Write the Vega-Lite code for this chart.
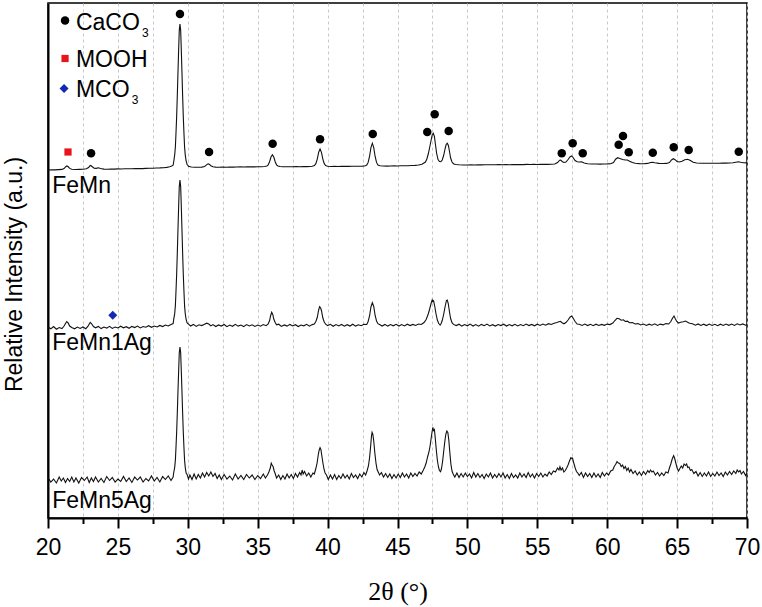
{
  "$schema": "https://vega.github.io/schema/vega-lite/v6.json",
  "width": 699,
  "height": 515,
  "autosize": {"type": "none"},
  "padding": {"left": 48, "top": 3, "right": 15, "bottom": 89},
  "background": "white",
  "config": {
    "view": {"stroke": "black", "strokeWidth": 1.5},
    "font": "Liberation Sans"
  },
  "datasets": {
    "femn": [
      {"x":20.0,"y":348},{"x":20.25,"y":348.3},{"x":20.5,"y":348.1},{"x":20.75,"y":348.4},{"x":21.0,"y":348.6},{"x":21.15,"y":349.5},{"x":21.25,"y":351},{"x":21.35,"y":352},{"x":21.45,"y":351.2},{"x":21.55,"y":349.6},{"x":21.7,"y":348.8},{"x":22.0,"y":348.5},{"x":22.25,"y":348.6},{"x":22.5,"y":348.7},{"x":22.75,"y":349.2},{"x":22.9,"y":350.5},{"x":23.0,"y":352.2},{"x":23.05,"y":352.5},{"x":23.15,"y":351.5},{"x":23.3,"y":349.8},{"x":23.45,"y":349.6},{"x":23.6,"y":350.2},{"x":23.75,"y":349.5},{"x":24.0,"y":348.9},{"x":24.25,"y":348.8},{"x":24.5,"y":349},{"x":24.75,"y":348.9},{"x":25.0,"y":349.1},{"x":25.25,"y":349},{"x":25.5,"y":349.2},{"x":25.75,"y":349.3},{"x":26.0,"y":349.2},{"x":26.25,"y":349.4},{"x":26.5,"y":349.5},{"x":26.75,"y":349.4},{"x":27.0,"y":349.6},{"x":27.25,"y":349.7},{"x":27.5,"y":349.8},{"x":27.75,"y":350},{"x":28.0,"y":350.1},{"x":28.25,"y":350.3},{"x":28.5,"y":350.6},{"x":28.7,"y":351.2},{"x":28.85,"y":352},{"x":28.95,"y":352.8},
      {"x":29.0,"y":357},{"x":29.06,"y":362.9},{"x":29.11,"y":370.7},{"x":29.15,"y":383.2},{"x":29.2,"y":400.6},{"x":29.25,"y":422.5},{"x":29.3,"y":447.1},{"x":29.35,"y":470.4},{"x":29.39,"y":487.6},{"x":29.44,"y":494},{"x":29.49,"y":487.6},{"x":29.53,"y":470.4},{"x":29.58,"y":447.1},{"x":29.63,"y":422.5},{"x":29.68,"y":400.6},{"x":29.73,"y":383.2},{"x":29.77,"y":370.7},{"x":29.82,"y":362.9},{"x":29.88,"y":357},{"x":29.95,"y":353.5},{"x":30.05,"y":351.8},{"x":30.25,"y":351},{"x":30.5,"y":350.7},{"x":30.75,"y":350.8},{"x":31.0,"y":350.9},{"x":31.2,"y":351.5},{"x":31.3,"y":352.6},{"x":31.4,"y":353.8},{"x":31.47,"y":354.2},{"x":31.55,"y":353.6},{"x":31.65,"y":352.3},{"x":31.8,"y":351.2},{"x":32.0,"y":350.9},{"x":32.25,"y":350.8},{"x":32.5,"y":350.9},{"x":32.75,"y":350.8},{"x":33.0,"y":351},{"x":33.25,"y":350.9},{"x":33.5,"y":351},{"x":33.75,"y":351.1},{"x":34.0,"y":351},{"x":34.25,"y":351.1},{"x":34.5,"y":351.2},{"x":34.75,"y":351.1},{"x":35.0,"y":351.2},{"x":35.25,"y":351.3},{"x":35.5,"y":351.5},
      {"x":35.65,"y":351.9},{"x":35.75,"y":353.2},{"x":35.85,"y":356.3},{"x":35.95,"y":361},{"x":36.05,"y":363.3},{"x":36.15,"y":361},{"x":36.25,"y":356.3},{"x":36.35,"y":353.2},{"x":36.45,"y":352},{"x":36.6,"y":351.5},{"x":36.8,"y":351.3},{"x":37.0,"y":351.2},{"x":37.25,"y":351.3},{"x":37.5,"y":351.2},{"x":37.75,"y":351.4},{"x":38.0,"y":351.3},{"x":38.25,"y":351.4},{"x":38.5,"y":351.4},{"x":38.75,"y":351.5},{"x":38.9,"y":351.8},
      {"x":39.06,"y":352.4},{"x":39.16,"y":354.3},{"x":39.26,"y":358.9},{"x":39.36,"y":365.7},{"x":39.46,"y":369},{"x":39.56,"y":365.7},{"x":39.66,"y":358.9},{"x":39.76,"y":354.3},{"x":39.86,"y":352.4},{"x":40.0,"y":351.7},{"x":40.25,"y":351.5},{"x":40.5,"y":351.6},{"x":40.75,"y":351.5},{"x":41.0,"y":351.6},{"x":41.25,"y":351.7},{"x":41.5,"y":351.6},{"x":41.75,"y":351.7},{"x":42.0,"y":351.8},{"x":42.25,"y":351.7},{"x":42.5,"y":351.9},{"x":42.7,"y":352.2},
      {"x":42.8,"y":353},{"x":42.9,"y":355.6},{"x":43.0,"y":361.5},{"x":43.1,"y":370.4},{"x":43.2,"y":374.8},{"x":43.3,"y":370.4},{"x":43.4,"y":361.5},{"x":43.5,"y":355.6},{"x":43.6,"y":353},{"x":43.75,"y":352.3},{"x":44.0,"y":352},{"x":44.25,"y":351.9},{"x":44.5,"y":352},{"x":44.75,"y":352.1},{"x":45.0,"y":352},{"x":45.25,"y":352.2},{"x":45.5,"y":352.3},{"x":45.75,"y":352.3},{"x":46.0,"y":352.5},{"x":46.25,"y":352.6},{"x":46.5,"y":353},{"x":46.75,"y":353.8},{"x":47.0,"y":356},
      {"x":47.1,"y":359},{"x":47.2,"y":364},{"x":47.3,"y":370.5},{"x":47.4,"y":377.5},{"x":47.48,"y":383},{"x":47.56,"y":384.7},{"x":47.64,"y":381.5},{"x":47.72,"y":373},{"x":47.8,"y":364.5},{"x":47.9,"y":358.5},{"x":48.0,"y":356.5},{"x":48.1,"y":356.3},{"x":48.2,"y":358},{"x":48.3,"y":362.5},{"x":48.4,"y":369},{"x":48.48,"y":373.5},{"x":48.56,"y":374.8},{"x":48.64,"y":372.5},{"x":48.72,"y":366.5},{"x":48.8,"y":360},{"x":48.9,"y":356},{"x":49.0,"y":354.3},{"x":49.15,"y":353.5},{"x":49.4,"y":353.2},{"x":49.7,"y":353},
      {"x":50.0,"y":353},{"x":50.25,"y":353.1},{"x":50.5,"y":353},{"x":50.75,"y":353.2},{"x":51.0,"y":353.1},{"x":51.25,"y":353.2},{"x":51.5,"y":353.3},{"x":51.75,"y":353.2},{"x":52.0,"y":353.3},{"x":52.25,"y":353.4},{"x":52.5,"y":353.3},{"x":52.75,"y":353.4},{"x":53.0,"y":353.3},{"x":53.25,"y":353.5},{"x":53.5,"y":353.4},{"x":53.75,"y":353.5},{"x":54.0,"y":353.4},{"x":54.25,"y":353.6},{"x":54.5,"y":353.5},{"x":54.75,"y":353.6},{"x":55.0,"y":353.5},{"x":55.25,"y":353.6},{"x":55.5,"y":353.7},{"x":55.75,"y":353.6},{"x":56.0,"y":353.8},{"x":56.25,"y":354},
      {"x":56.45,"y":355.5},{"x":56.6,"y":357.8},{"x":56.67,"y":358},{"x":56.78,"y":356.5},{"x":56.9,"y":355.5},{"x":57.05,"y":356},{"x":57.2,"y":358.5},{"x":57.35,"y":361.3},{"x":57.46,"y":362},{"x":57.56,"y":360.5},{"x":57.7,"y":357.5},{"x":57.85,"y":356.2},{"x":58.0,"y":356},{"x":58.17,"y":356.3},{"x":58.35,"y":355},{"x":58.6,"y":354.3},{"x":58.9,"y":354},{"x":59.2,"y":354},{"x":59.5,"y":353.9},{"x":59.75,"y":354},{"x":60.0,"y":354.1},{"x":60.25,"y":354.3},
      {"x":60.45,"y":355.5},{"x":60.6,"y":358.8},{"x":60.75,"y":360.3},{"x":60.9,"y":359.5},{"x":61.1,"y":358.5},{"x":61.3,"y":358},{"x":61.44,"y":358},{"x":61.6,"y":356.8},{"x":61.8,"y":355.5},{"x":62.0,"y":354.8},{"x":62.3,"y":354.4},{"x":62.6,"y":354.3},{"x":62.9,"y":354.6},{"x":63.1,"y":355.5},{"x":63.25,"y":355.7},{"x":63.4,"y":355.2},{"x":63.7,"y":354.6},{"x":64.0,"y":354.5},{"x":64.25,"y":354.6},
      {"x":64.45,"y":355.5},{"x":64.6,"y":358},{"x":64.73,"y":359.3},{"x":64.85,"y":358.3},{"x":65.0,"y":356.5},{"x":65.15,"y":356},{"x":65.35,"y":356.8},{"x":65.55,"y":358.2},{"x":65.76,"y":358.7},{"x":65.95,"y":357.5},{"x":66.15,"y":355.8},{"x":66.4,"y":355},{"x":66.7,"y":354.7},{"x":67.0,"y":354.7},{"x":67.25,"y":354.8},{"x":67.5,"y":354.7},{"x":67.75,"y":354.8},{"x":68.0,"y":354.8},{"x":68.25,"y":354.9},{"x":68.5,"y":354.9},{"x":68.75,"y":355},{"x":69.0,"y":355.2},{"x":69.2,"y":355.8},{"x":69.38,"y":356.3},{"x":69.55,"y":355.7},{"x":69.75,"y":355.2},{"x":70.0,"y":355.1}
    ],
    "femn1ag": [
      {"x":20.0,"y":191},{"x":20.2,"y":189.2},{"x":20.4,"y":191.5},{"x":20.6,"y":188.8},{"x":20.8,"y":190.4},{"x":21.0,"y":189.5},{"x":21.15,"y":192},{"x":21.25,"y":194.5},{"x":21.34,"y":196.3},{"x":21.45,"y":194.8},{"x":21.55,"y":192},{"x":21.7,"y":190.6},{"x":21.9,"y":189.2},{"x":22.1,"y":190.9},{"x":22.3,"y":189.6},{"x":22.5,"y":191},{"x":22.7,"y":189.3},{"x":22.85,"y":191.5},{"x":22.95,"y":194},{"x":23.02,"y":195.7},{"x":23.12,"y":194.2},{"x":23.25,"y":191.5},{"x":23.4,"y":190.2},{"x":23.6,"y":191.6},{"x":23.8,"y":189.4},{"x":24.0,"y":191},{"x":24.2,"y":189.9},{"x":24.4,"y":191.7},{"x":24.6,"y":189.6},{"x":24.8,"y":190.9},{"x":25.0,"y":190},{"x":25.2,"y":191.8},{"x":25.4,"y":190.2},{"x":25.6,"y":191.3},{"x":25.8,"y":189.7},{"x":26.0,"y":191.6},{"x":26.2,"y":190.4},{"x":26.4,"y":191.9},{"x":26.6,"y":190.1},{"x":26.8,"y":191.5},{"x":27.0,"y":190.8},{"x":27.2,"y":192.3},{"x":27.4,"y":190.7},{"x":27.6,"y":192},{"x":27.8,"y":191},{"x":28.0,"y":192.6},{"x":28.2,"y":191.4},{"x":28.4,"y":193},{"x":28.6,"y":192},{"x":28.8,"y":193.6},{"x":28.95,"y":194.5},
      {"x":29.0,"y":199.3},{"x":29.06,"y":204.1},{"x":29.11,"y":212.1},{"x":29.15,"y":224.9},{"x":29.2,"y":242.7},{"x":29.25,"y":265},{"x":29.3,"y":290.1},{"x":29.35,"y":313.9},{"x":29.39,"y":331.4},{"x":29.44,"y":338},{"x":29.49,"y":331.4},{"x":29.53,"y":313.9},{"x":29.58,"y":290.1},{"x":29.63,"y":265},{"x":29.68,"y":242.7},{"x":29.73,"y":224.9},{"x":29.77,"y":212.1},{"x":29.82,"y":204.1},{"x":29.88,"y":198.5},{"x":29.95,"y":195},{"x":30.05,"y":193.8},{"x":30.2,"y":192},{"x":30.4,"y":193.6},{"x":30.6,"y":191.6},{"x":30.8,"y":193.2},{"x":31.0,"y":192.4},{"x":31.2,"y":193.8},{"x":31.35,"y":194.8},{"x":31.5,"y":194},{"x":31.65,"y":192.1},{"x":31.8,"y":193.4},{"x":32.0,"y":191.5},{"x":32.2,"y":193.1},{"x":32.4,"y":191.9},{"x":32.6,"y":193.5},{"x":32.8,"y":191.3},{"x":33.0,"y":192.9},{"x":33.2,"y":191.7},{"x":33.4,"y":193.6},{"x":33.6,"y":191.9},{"x":33.8,"y":193},{"x":34.0,"y":191.4},{"x":34.2,"y":193.4},{"x":34.4,"y":192},{"x":34.6,"y":193.2},{"x":34.8,"y":191.6},{"x":35.0,"y":192.9},{"x":35.2,"y":191.8},{"x":35.4,"y":193.5},{"x":35.6,"y":192.3},{"x":35.75,"y":194},
      {"x":35.85,"y":197.5},{"x":35.92,"y":202},{"x":36.0,"y":205.7},{"x":36.08,"y":203.5},{"x":36.15,"y":199},{"x":36.25,"y":195.5},{"x":36.35,"y":193.2},{"x":36.5,"y":193.8},{"x":36.7,"y":191.6},{"x":36.9,"y":193.1},{"x":37.1,"y":191.9},{"x":37.3,"y":193.6},{"x":37.5,"y":192},{"x":37.7,"y":193.3},{"x":37.9,"y":191.5},{"x":38.1,"y":193},{"x":38.3,"y":192.2},{"x":38.5,"y":193.7},{"x":38.7,"y":191.8},{"x":38.9,"y":193.4},{"x":39.05,"y":194},
      {"x":39.16,"y":196.5},{"x":39.26,"y":200.5},{"x":39.36,"y":208},{"x":39.43,"y":211.3},{"x":39.5,"y":210},{"x":39.56,"y":207.5},{"x":39.66,"y":200},{"x":39.76,"y":196},{"x":39.86,"y":193.8},{"x":40.0,"y":192.4},{"x":40.2,"y":193.7},{"x":40.4,"y":191.7},{"x":40.6,"y":193.4},{"x":40.8,"y":192.1},{"x":41.0,"y":193.5},{"x":41.2,"y":191.8},{"x":41.4,"y":193.3},{"x":41.6,"y":192},{"x":41.8,"y":193.8},{"x":42.0,"y":191.9},{"x":42.2,"y":193.2},{"x":42.4,"y":192.3},{"x":42.6,"y":193.8},{"x":42.8,"y":193.5},
      {"x":42.9,"y":196.5},{"x":43.0,"y":202},{"x":43.1,"y":211},{"x":43.2,"y":215.3},{"x":43.3,"y":211.5},{"x":43.4,"y":202.5},{"x":43.5,"y":197},{"x":43.6,"y":194.3},{"x":43.75,"y":193.2},{"x":43.9,"y":192},{"x":44.1,"y":193.6},{"x":44.3,"y":191.9},{"x":44.5,"y":193.4},{"x":44.7,"y":192.2},{"x":44.9,"y":193.7},{"x":45.1,"y":192},{"x":45.3,"y":193.5},{"x":45.5,"y":192.1},{"x":45.7,"y":193.8},{"x":45.9,"y":192.4},{"x":46.1,"y":193.6},{"x":46.3,"y":192.6},{"x":46.5,"y":194},{"x":46.7,"y":193.5},{"x":46.9,"y":195.5},
      {"x":47.05,"y":198.5},{"x":47.2,"y":204},{"x":47.3,"y":209},{"x":47.4,"y":214.5},{"x":47.48,"y":218},{"x":47.52,"y":216.5},{"x":47.58,"y":217.2},{"x":47.66,"y":212},{"x":47.75,"y":204.5},{"x":47.85,"y":198},{"x":47.95,"y":194.5},{"x":48.05,"y":193},{"x":48.12,"y":194.5},{"x":48.2,"y":197.5},{"x":48.3,"y":203.5},{"x":48.4,"y":211},{"x":48.5,"y":217.5},{"x":48.56,"y":218},{"x":48.63,"y":214.5},{"x":48.72,"y":206},{"x":48.8,"y":199.5},{"x":48.9,"y":195.3},{"x":49.0,"y":193.6},{"x":49.2,"y":192.4},{"x":49.4,"y":193.8},{"x":49.6,"y":191.9},{"x":49.8,"y":193.5},
      {"x":50.0,"y":192.2},{"x":50.2,"y":193.9},{"x":50.4,"y":192},{"x":50.6,"y":193.4},{"x":50.8,"y":191.8},{"x":51.0,"y":193.6},{"x":51.2,"y":192.3},{"x":51.4,"y":193.9},{"x":51.6,"y":192.1},{"x":51.8,"y":193.3},{"x":52.0,"y":191.9},{"x":52.2,"y":193.5},{"x":52.4,"y":192.4},{"x":52.6,"y":193.8},{"x":52.8,"y":192},{"x":53.0,"y":193.4},{"x":53.2,"y":192.2},{"x":53.4,"y":193.7},{"x":53.6,"y":192.1},{"x":53.8,"y":193.5},{"x":54.0,"y":192.3},{"x":54.2,"y":193.9},{"x":54.4,"y":192.4},{"x":54.6,"y":193.6},{"x":54.8,"y":192.2},{"x":55.0,"y":193.8},{"x":55.2,"y":192.6},{"x":55.4,"y":194},{"x":55.6,"y":192.8},{"x":55.8,"y":194.3},{"x":56.0,"y":193.5},{"x":56.2,"y":194.8},
      {"x":56.4,"y":195.5},{"x":56.55,"y":196.2},{"x":56.65,"y":196.7},{"x":56.75,"y":195.5},{"x":56.9,"y":194.2},{"x":57.05,"y":195.5},{"x":57.2,"y":198},{"x":57.35,"y":201},{"x":57.46,"y":202},{"x":57.56,"y":200},{"x":57.7,"y":196.5},{"x":57.85,"y":194},{"x":58.0,"y":193.8},{"x":58.2,"y":192.6},{"x":58.4,"y":193.9},{"x":58.6,"y":192.4},{"x":58.8,"y":193.7},{"x":59.0,"y":192.3},{"x":59.2,"y":193.8},{"x":59.4,"y":192.5},{"x":59.6,"y":193.6},{"x":59.8,"y":192.7},{"x":60.0,"y":193.9},{"x":60.2,"y":193.4},
      {"x":60.4,"y":195},{"x":60.55,"y":197.5},{"x":60.7,"y":199.7},{"x":60.85,"y":199.2},{"x":61.0,"y":197.8},{"x":61.15,"y":198.2},{"x":61.3,"y":196.5},{"x":61.45,"y":196.8},{"x":61.6,"y":195.3},{"x":61.8,"y":195.5},{"x":62.0,"y":194},{"x":62.2,"y":194.4},{"x":62.4,"y":193},{"x":62.6,"y":193.9},{"x":62.8,"y":192.5},{"x":63.0,"y":193.8},{"x":63.2,"y":192.8},{"x":63.4,"y":194.2},{"x":63.6,"y":192.6},{"x":63.8,"y":193.9},{"x":64.0,"y":193.1},{"x":64.2,"y":194.4},
      {"x":64.4,"y":194},{"x":64.55,"y":196.5},{"x":64.68,"y":200},{"x":64.78,"y":202},{"x":64.88,"y":199},{"x":64.98,"y":196.5},{"x":65.1,"y":195},{"x":65.25,"y":195.8},{"x":65.45,"y":196.2},{"x":65.6,"y":197},{"x":65.75,"y":195.7},{"x":65.9,"y":194.8},{"x":66.1,"y":194.2},{"x":66.3,"y":192.8},{"x":66.5,"y":194.1},{"x":66.7,"y":192.5},{"x":66.9,"y":193.8},{"x":67.1,"y":192.4},{"x":67.3,"y":193.9},{"x":67.5,"y":192.6},{"x":67.7,"y":193.7},{"x":67.9,"y":192.3},{"x":68.1,"y":193.8},{"x":68.3,"y":192.5},{"x":68.5,"y":194},{"x":68.7,"y":192.7},{"x":68.9,"y":193.9},{"x":69.1,"y":192.6},{"x":69.3,"y":194.2},{"x":69.5,"y":193},{"x":69.7,"y":194.1},{"x":69.9,"y":192.8},{"x":70.0,"y":193.4}
    ],
    "femn5ag": [
      {"x":20.0,"y":40.5},{"x":20.2,"y":36},{"x":20.4,"y":39},{"x":20.6,"y":35},{"x":20.8,"y":41},{"x":20.95,"y":37},{"x":21.1,"y":40},{"x":21.25,"y":35.5},{"x":21.4,"y":39.5},{"x":21.55,"y":36.5},{"x":21.7,"y":41},{"x":21.85,"y":36},{"x":22.0,"y":40},{"x":22.2,"y":35},{"x":22.4,"y":40.5},{"x":22.6,"y":37.5},{"x":22.8,"y":41},{"x":22.95,"y":35.5},{"x":23.1,"y":40},{"x":23.25,"y":36.5},{"x":23.4,"y":41},{"x":23.6,"y":36},{"x":23.8,"y":39.5},{"x":24.0,"y":35.5},{"x":24.2,"y":41.5},{"x":24.4,"y":37.5},{"x":24.6,"y":40.5},{"x":24.8,"y":36},{"x":25.0,"y":39},{"x":25.2,"y":36.5},{"x":25.4,"y":41.5},{"x":25.6,"y":36.5},{"x":25.8,"y":40},{"x":26.0,"y":35.5},{"x":26.2,"y":41},{"x":26.4,"y":38},{"x":26.6,"y":41},{"x":26.8,"y":36},{"x":27.0,"y":39.5},{"x":27.2,"y":37},{"x":27.4,"y":42},{"x":27.6,"y":37},{"x":27.8,"y":40.5},{"x":28.0,"y":36},{"x":28.2,"y":41.5},{"x":28.4,"y":38.5},{"x":28.6,"y":42},{"x":28.8,"y":37.5},{"x":28.95,"y":41},
      {"x":29.0,"y":46},{"x":29.06,"y":50.4},{"x":29.11,"y":57.6},{"x":29.15,"y":69.1},{"x":29.2,"y":85.1},{"x":29.25,"y":105.3},{"x":29.3,"y":127.9},{"x":29.35,"y":149.3},{"x":29.39,"y":165.1},{"x":29.44,"y":171},{"x":29.49,"y":165.1},{"x":29.53,"y":149.3},{"x":29.58,"y":127.9},{"x":29.63,"y":105.3},{"x":29.68,"y":85.1},{"x":29.73,"y":69.1},{"x":29.77,"y":57.6},{"x":29.82,"y":50.4},{"x":29.88,"y":45},{"x":29.95,"y":43.5},{"x":30.05,"y":39},{"x":30.15,"y":43},{"x":30.3,"y":38.5},{"x":30.45,"y":44},{"x":30.6,"y":39},{"x":30.75,"y":43.5},{"x":30.9,"y":40},{"x":31.05,"y":45},{"x":31.2,"y":41},{"x":31.35,"y":45.5},{"x":31.5,"y":42},{"x":31.65,"y":46},{"x":31.8,"y":41.5},{"x":31.95,"y":44.5},{"x":32.1,"y":39.5},{"x":32.25,"y":43},{"x":32.4,"y":38.5},{"x":32.6,"y":43.5},{"x":32.8,"y":39},{"x":33.0,"y":42},{"x":33.2,"y":38},{"x":33.4,"y":44},{"x":33.6,"y":39},{"x":33.8,"y":42.5},{"x":34.0,"y":38.5},{"x":34.2,"y":43.5},{"x":34.4,"y":40},{"x":34.6,"y":43},{"x":34.8,"y":38.5},{"x":35.0,"y":42.5},{"x":35.2,"y":39.5},{"x":35.4,"y":44},{"x":35.55,"y":40},{"x":35.7,"y":43},{"x":35.8,"y":46},
      {"x":35.9,"y":50},{"x":35.97,"y":54.7},{"x":36.03,"y":53},{"x":36.1,"y":51.5},{"x":36.18,"y":47},{"x":36.25,"y":44.5},{"x":36.35,"y":40},{"x":36.5,"y":43},{"x":36.65,"y":38.5},{"x":36.8,"y":42.5},{"x":36.95,"y":39},{"x":37.1,"y":44},{"x":37.25,"y":40},{"x":37.4,"y":43.5},{"x":37.55,"y":39.5},{"x":37.7,"y":44.5},{"x":37.85,"y":41},{"x":38.0,"y":45.5},{"x":38.1,"y":43},{"x":38.18,"y":48},{"x":38.25,"y":44},{"x":38.35,"y":46.5},{"x":38.5,"y":42},{"x":38.65,"y":45},{"x":38.8,"y":41},{"x":38.95,"y":45},{"x":39.05,"y":44},
      {"x":39.15,"y":49},{"x":39.25,"y":55},{"x":39.33,"y":63},{"x":39.4,"y":68},{"x":39.46,"y":70.3},{"x":39.52,"y":68.5},{"x":39.58,"y":63},{"x":39.66,"y":55.5},{"x":39.74,"y":49},{"x":39.82,"y":45},{"x":39.92,"y":43},{"x":40.05,"y":38.5},{"x":40.2,"y":43},{"x":40.35,"y":39},{"x":40.5,"y":43.5},{"x":40.65,"y":38.5},{"x":40.8,"y":42.5},{"x":40.95,"y":39.5},{"x":41.1,"y":44},{"x":41.25,"y":40},{"x":41.4,"y":43},{"x":41.55,"y":39},{"x":41.7,"y":44.5},{"x":41.85,"y":40.5},{"x":42.0,"y":43},{"x":42.15,"y":39.5},{"x":42.3,"y":44},{"x":42.45,"y":41},{"x":42.6,"y":45.5},{"x":42.72,"y":43},
      {"x":42.82,"y":47},{"x":42.92,"y":52},{"x":43.0,"y":60},{"x":43.08,"y":72},{"x":43.14,"y":82},{"x":43.18,"y":85.7},{"x":43.24,"y":83.5},{"x":43.3,"y":77},{"x":43.38,"y":65},{"x":43.46,"y":55},{"x":43.54,"y":48.5},{"x":43.62,"y":46},{"x":43.72,"y":43},{"x":43.85,"y":45.5},{"x":44.0,"y":41},{"x":44.15,"y":44.5},{"x":44.3,"y":40.5},{"x":44.45,"y":44},{"x":44.6,"y":39.5},{"x":44.75,"y":43.5},{"x":44.9,"y":40},{"x":45.05,"y":44},{"x":45.2,"y":40.5},{"x":45.35,"y":45},{"x":45.5,"y":41},{"x":45.65,"y":44},{"x":45.8,"y":40},{"x":45.95,"y":45},{"x":46.1,"y":41.5},{"x":46.25,"y":44.5},{"x":46.4,"y":42},{"x":46.55,"y":46},{"x":46.7,"y":44},{"x":46.85,"y":48},{"x":46.95,"y":51},
      {"x":47.05,"y":55},{"x":47.15,"y":61},{"x":47.25,"y":66},{"x":47.33,"y":72},{"x":47.4,"y":79},{"x":47.47,"y":86},{"x":47.53,"y":90.7},{"x":47.58,"y":87.5},{"x":47.64,"y":88.5},{"x":47.7,"y":80},{"x":47.77,"y":69},{"x":47.85,"y":58},{"x":47.93,"y":51},{"x":48.0,"y":47.5},{"x":48.08,"y":46.3},{"x":48.14,"y":49},{"x":48.22,"y":56},{"x":48.3,"y":66},{"x":48.38,"y":76},{"x":48.46,"y":84},{"x":48.53,"y":87},{"x":48.6,"y":85.5},{"x":48.67,"y":78},{"x":48.74,"y":66},{"x":48.82,"y":54},{"x":48.9,"y":47},{"x":48.98,"y":44},{"x":49.1,"y":41},{"x":49.25,"y":45},{"x":49.4,"y":40.5},{"x":49.55,"y":44.5},{"x":49.7,"y":41},{"x":49.85,"y":45},
      {"x":50.0,"y":41.5},{"x":50.15,"y":44},{"x":50.3,"y":40},{"x":50.45,"y":45.5},{"x":50.6,"y":41},{"x":50.75,"y":44.5},{"x":50.9,"y":40.5},{"x":51.05,"y":43.5},{"x":51.2,"y":39.5},{"x":51.35,"y":44},{"x":51.5,"y":41},{"x":51.65,"y":45},{"x":51.8,"y":40},{"x":51.95,"y":43.5},{"x":52.1,"y":40.5},{"x":52.25,"y":44.5},{"x":52.4,"y":41},{"x":52.55,"y":45},{"x":52.7,"y":40},{"x":52.85,"y":43.5},{"x":53.0,"y":39.5},{"x":53.15,"y":44.5},{"x":53.3,"y":40.5},{"x":53.45,"y":43},{"x":53.6,"y":40},{"x":53.75,"y":45},{"x":53.9,"y":41},{"x":54.05,"y":44},{"x":54.2,"y":40.5},{"x":54.35,"y":45.5},{"x":54.5,"y":41},{"x":54.65,"y":44},{"x":54.8,"y":40},{"x":54.95,"y":44.5},{"x":55.1,"y":41.5},{"x":55.25,"y":45},{"x":55.4,"y":41},{"x":55.55,"y":44},{"x":55.7,"y":42},{"x":55.85,"y":46},{"x":56.0,"y":43.5},{"x":56.15,"y":47},{"x":56.3,"y":46},
      {"x":56.45,"y":50},{"x":56.55,"y":48},{"x":56.62,"y":51.3},{"x":56.7,"y":48},{"x":56.8,"y":50},{"x":56.9,"y":46},{"x":57.0,"y":47.5},{"x":57.1,"y":50},{"x":57.2,"y":53},{"x":57.3,"y":57},{"x":57.4,"y":60.3},{"x":57.46,"y":59.5},{"x":57.52,"y":60},{"x":57.6,"y":55.5},{"x":57.7,"y":50.5},{"x":57.8,"y":46.5},{"x":57.9,"y":45},{"x":58.0,"y":42.5},{"x":58.15,"y":45.5},{"x":58.3,"y":40.5},{"x":58.45,"y":45},{"x":58.6,"y":41.5},{"x":58.75,"y":44.5},{"x":58.9,"y":40.5},{"x":59.05,"y":45},{"x":59.2,"y":41},{"x":59.35,"y":44},{"x":59.5,"y":40.5},{"x":59.65,"y":45.5},{"x":59.8,"y":42},{"x":59.95,"y":45},{"x":60.1,"y":43},{"x":60.25,"y":47},
      {"x":60.4,"y":48},{"x":60.5,"y":51.5},{"x":60.6,"y":53.5},{"x":60.7,"y":56.3},{"x":60.8,"y":55},{"x":60.9,"y":54.5},{"x":61.0,"y":51.5},{"x":61.1,"y":53},{"x":61.2,"y":49.5},{"x":61.3,"y":51.5},{"x":61.4,"y":47.5},{"x":61.5,"y":50},{"x":61.6,"y":46},{"x":61.7,"y":48.5},{"x":61.85,"y":44.5},{"x":62.0,"y":47},{"x":62.15,"y":43},{"x":62.3,"y":46},{"x":62.45,"y":42.5},{"x":62.6,"y":46.5},{"x":62.75,"y":43.5},{"x":62.9,"y":47.5},{"x":63.0,"y":45.5},{"x":63.1,"y":48},{"x":63.2,"y":46},{"x":63.3,"y":47},{"x":63.45,"y":43},{"x":63.6,"y":45.5},{"x":63.75,"y":42},{"x":63.9,"y":45},{"x":64.05,"y":42.5},{"x":64.2,"y":46},{"x":64.35,"y":45},
      {"x":64.45,"y":50},{"x":64.55,"y":54},{"x":64.65,"y":59},{"x":64.75,"y":62.3},{"x":64.82,"y":60},{"x":64.9,"y":55.5},{"x":65.0,"y":50},{"x":65.1,"y":47},{"x":65.2,"y":49.5},{"x":65.3,"y":52},{"x":65.4,"y":50},{"x":65.5,"y":54},{"x":65.6,"y":52.5},{"x":65.68,"y":54},{"x":65.76,"y":50.5},{"x":65.85,"y":51},{"x":65.95,"y":47.5},{"x":66.05,"y":48.5},{"x":66.2,"y":44.5},{"x":66.35,"y":46.5},{"x":66.5,"y":42},{"x":66.65,"y":45.5},{"x":66.8,"y":41.5},{"x":66.95,"y":45},{"x":67.1,"y":42},{"x":67.25,"y":46},{"x":67.4,"y":41.5},{"x":67.55,"y":44.5},{"x":67.7,"y":42},{"x":67.85,"y":46},{"x":68.0,"y":42.5},{"x":68.15,"y":45},{"x":68.3,"y":41.5},{"x":68.45,"y":46},{"x":68.6,"y":43},{"x":68.75,"y":46.5},{"x":68.9,"y":43.5},{"x":69.05,"y":47},{"x":69.2,"y":44.5},{"x":69.3,"y":48},{"x":69.4,"y":46},{"x":69.5,"y":47.5},{"x":69.6,"y":44},{"x":69.75,"y":46.5},{"x":69.9,"y":42.5},{"x":70.0,"y":45}
    ],
    "caco3": [
      {"x":21.22,"y":497.5},{"x":23.08,"y":364.7},{"x":29.44,"y":504},{"x":31.52,"y":366},{"x":36.07,"y":374.3},{"x":39.46,"y":378.7},{"x":43.23,"y":384},{"x":47.13,"y":386},{"x":47.66,"y":403.7},{"x":48.66,"y":387},{"x":56.75,"y":364.7},{"x":57.53,"y":374.7},{"x":58.25,"y":364.7},{"x":60.82,"y":373.3},{"x":61.13,"y":382},{"x":61.54,"y":365.7},{"x":63.26,"y":365.3},{"x":64.76,"y":370.7},{"x":65.83,"y":368},{"x":69.41,"y":366.3}
    ],
    "mooh": [{"x":21.22,"y":459.5},{"x":21.43,"y":366}],
    "mco3": [{"x":21.15,"y":429.5},{"x":24.63,"y":202.7}],
    "labels": [
      {"x":20.3,"y":325,"t":"FeMn"},
      {"x":20.3,"y":168,"t":"FeMn1Ag"},
      {"x":20.3,"y":10,"t":"FeMn5Ag"},
      {"x":22.0,"y":488,"t":"CaCO"},
      {"x":22.0,"y":451,"t":"MOOH"},
      {"x":22.0,"y":421,"t":"MCO"}
    ],
    "subs": [
      {"x":26.72,"y":481,"t":"3"},
      {"x":25.99,"y":414,"t":"3"}
    ]
  },
  "encoding": {
    "x": {
      "field": "x",
      "type": "quantitative",
      "scale": {"domain": [20, 70], "nice": false, "zero": false},
      "axis": {
        "title": "2θ (°)",
        "titleFont": "Liberation Serif",
        "titleFontSize": 26,
        "titleFontWeight": "normal",
        "titleColor": "black",
        "titlePadding": 19,
        "values": [20, 22.5, 25, 27.5, 30, 32.5, 35, 37.5, 40, 42.5, 45, 47.5, 50, 52.5, 55, 57.5, 60, 62.5, 65, 67.5, 70],
        "labelExpr": "datum.value % 5 === 0 ? '' + datum.value : ''",
        "labelFont": "Liberation Sans",
        "labelFontSize": 23,
        "labelColor": "black",
        "labelPadding": 8,
        "labelFlush": false,
        "labelOverlap": false,
        "tickColor": "black",
        "tickWidth": 2,
        "tickSize": {"condition": {"test": "datum.value % 5 === 0", "value": 10}, "value": 5.5},
        "domainColor": "black",
        "domainWidth": 2,
        "grid": true,
        "gridColor": "#c8c8c8",
        "gridDash": [3, 3],
        "gridWidth": 1
      }
    },
    "y": {
      "field": "y",
      "type": "quantitative",
      "scale": {"domain": [0, 515], "nice": false, "zero": false},
      "axis": {
        "title": "Relative Intensity (a.u.)",
        "titleFont": "Liberation Sans",
        "titleFontSize": 23,
        "titleFontWeight": "normal",
        "titleColor": "black",
        "titlePadding": 22,
        "titleY": 271,
        "minExtent": 0,
        "ticks": false,
        "labels": false,
        "grid": false,
        "domainColor": "black",
        "domainWidth": 2
      }
    }
  },
  "layer": [
    {"data": {"name": "femn"}, "mark": {"type": "line", "color": "#111111", "strokeWidth": 1.1}},
    {"data": {"name": "femn1ag"}, "mark": {"type": "line", "color": "#111111", "strokeWidth": 1.1}},
    {"data": {"name": "femn5ag"}, "mark": {"type": "line", "color": "#111111", "strokeWidth": 1.1}},
    {"data": {"name": "caco3"}, "mark": {"type": "point", "shape": "circle", "filled": true, "color": "black", "opacity": 1, "size": 72}},
    {"data": {"name": "mooh"}, "mark": {"type": "point", "shape": "square", "filled": true, "color": "#e8141c", "opacity": 1, "size": 52}},
    {"data": {"name": "mco3"}, "mark": {"type": "point", "shape": "diamond", "filled": true, "color": "#1428b4", "opacity": 1, "size": 81}},
    {"data": {"name": "labels"}, "mark": {"type": "text", "align": "left", "baseline": "alphabetic", "font": "Liberation Sans", "fontSize": 23, "color": "black"}, "encoding": {"text": {"field": "t"}}},
    {"data": {"name": "subs"}, "mark": {"type": "text", "align": "left", "baseline": "alphabetic", "font": "Liberation Sans", "fontSize": 12, "color": "black"}, "encoding": {"text": {"field": "t"}}}
  ]
}
